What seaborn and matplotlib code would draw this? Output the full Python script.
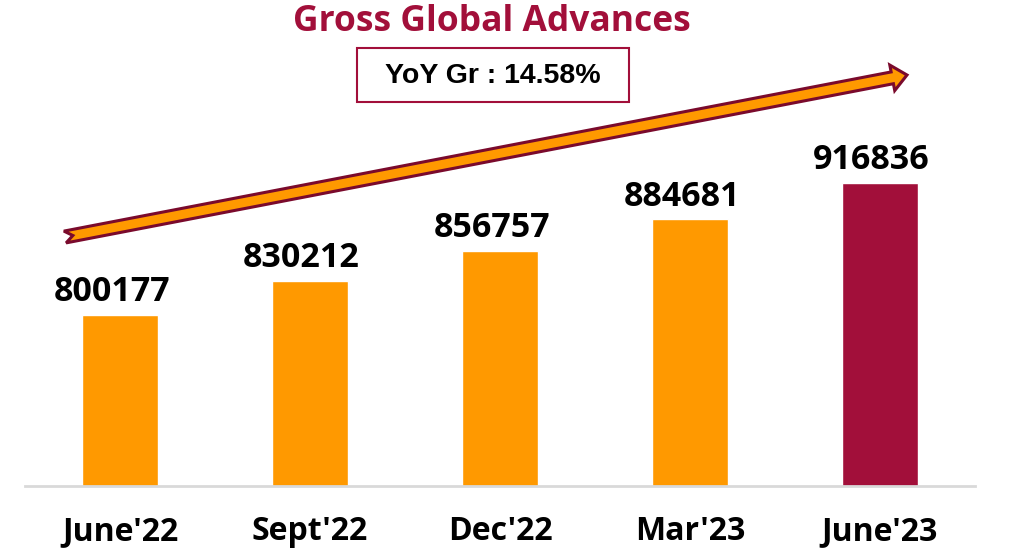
import numpy as np
import pandas as pd
import matplotlib
matplotlib.use("Agg")
import matplotlib.pyplot as plt
from matplotlib.patches import Polygon, Rectangle
import seaborn as sns

# Daten
quartale = ["June'22", "Sept'22", "Dec'22", "Mar'23", "June'23"]
advances = [800177, 830212, 856757, 884681, 916836]
yoy_text = "YoY Gr : 14.58%"

orange = "#FF9900"
crimson = "#A20F3A"
dark_crimson = "#7A0A2C"
farben = [orange, orange, orange, orange, crimson]

df = pd.DataFrame({"Quartal": quartale, "Advances": advances})

sns.set_style("white")
W, H = 1018, 553
fig = plt.figure(figsize=(W / 100, H / 100), dpi=100)
ax = fig.add_axes([25 / W, 67 / H, 950 / W, 486 / H])

sns.barplot(data=df, x="Quartal", y="Advances", hue="Quartal", palette=farben,
            width=0.4, saturation=1, legend=False, ax=ax)

ax.set_xlim(-0.5, 4.5)
ax.set_ylim(649000, 1078600)
ax.set_xlabel("")
ax.set_ylabel("")
ax.set_yticks([])
for s in ["top", "right", "left"]:
    ax.spines[s].set_visible(False)
ax.spines["bottom"].set_color("#D9D9D9")
ax.spines["bottom"].set_linewidth(2)
ax.tick_params(axis="x", length=0, pad=21)
for lbl in ax.get_xticklabels():
    lbl.set_fontfamily("Open Sans")
    lbl.set_fontweight("bold")
    lbl.set_fontsize(23)
    lbl.set_color("black")

# Werte über den Balken
for i, v in enumerate(advances):
    ax.annotate(str(v), (i, v), xytext=(-6, 4), textcoords="offset points",
                ha="center", va="bottom", fontsize=24.5, fontweight="bold",
                family="Open Sans", color="black")

# Titel
fig.text(492 / W, 1 - 22 / H, "Gross Global Advances", ha="center", va="center",
         fontsize=25.5, fontweight="bold", family="Open Sans", color=crimson)

# YoY Box
fig.patches.append(Rectangle((357 / W, 1 - 102 / H), 272 / W, 54 / H,
                             transform=fig.transFigure, fill=False,
                             ec=crimson, lw=1.5))
fig.text(493 / W, 1 - 76 / H, yoy_text, ha="center", va="center",
         fontsize=20.5, fontweight="bold", family="Liberation Sans", color="black")

# Pfeil (in Pixelkoordinaten)
tail = np.array([65.0, 237.0])
tip = np.array([907.0, 75.0])
u = (tip - tail) / np.linalg.norm(tip - tail)
n = np.array([-u[1], u[0]])
hw, bw, hl, notch = 6, 13, 15, 8
hb = tip - hl * u
pts = [tail - hw * n, hb - hw * n, hb - bw * n, tip, hb + bw * n,
       hb + hw * n, tail + hw * n, tail + notch * u]
pts = [(p[0] / W, 1 - p[1] / H) for p in pts]
fig.patches.append(Polygon(pts, closed=True, transform=fig.transFigure,
                           fc=orange, ec=dark_crimson, lw=2.2, joinstyle="miter"))

fig.savefig("out.png", dpi=100)
